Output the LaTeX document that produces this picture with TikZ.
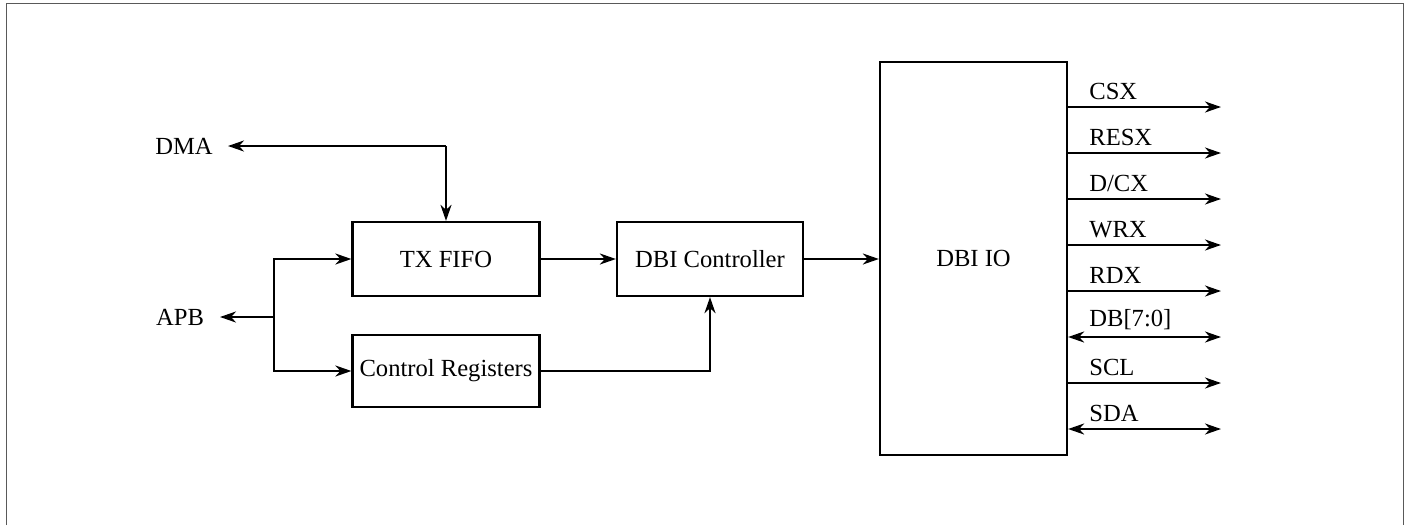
\documentclass[tikz,border=0pt]{standalone}
\usepackage{fontspec}
\setmainfont{Liberation Serif}
\usetikzlibrary{arrows.meta,positioning}

\tikzset{
  blk/.style={draw,line width=1.3pt,inner sep=0pt,font=\fontsize{14}{16}\selectfont},
  lbl/.style={inner sep=0pt,font=\fontsize{14}{16}\selectfont},
  wire/.style={line width=1.3pt},
  tip/.tip={Stealth[length=0.32cm,width=0.22cm,inset=0.1cm]}
}

\begin{document}
\begin{tikzpicture}[x=0.02cm,y=-0.02cm]
\useasboundingbox (0,0) rectangle (1411,525);
% frame
\draw[gray!70!black,line width=0.7pt] (6.5,525) -- (6.5,3.5) -- (1403.5,3.5) -- (1403.5,525);

% blocks
\node[blk,minimum width=3.74cm,minimum height=1.48cm] (fifo) at (446,259) {TX FIFO};
\node[blk,minimum width=3.74cm,minimum height=1.44cm] (regs) at (446,371) {Control Registers};
\node[blk,minimum width=3.72cm,minimum height=1.48cm] (ctrl) at (710,259) {DBI Controller};
\node[blk,minimum width=3.74cm,minimum height=7.86cm] (io) at (973.5,258.5) {DBI IO};

% bus side
\node[lbl] (dma) at (184,146) {DMA};
\node[lbl] (apb) at (180,317) {APB};
\coordinate (split) at (274,317);
\coordinate (dma-end) at (228,146);
\coordinate (apb-end) at (220,317);

\draw[wire,-tip] (fifo.north |- dma) -- (dma-end);
\draw[wire,-tip] (fifo.north |- dma) -- (fifo.north);
\draw[wire,-tip] (split) -- (apb-end);
\draw[wire,-tip] (split) |- (fifo.west);
\draw[wire,-tip] (split) |- (regs.west);

\draw[wire,-tip] (fifo) -- (ctrl);
\draw[wire,-tip] (regs.east) -| (ctrl.south);
\draw[wire,-tip] (ctrl.east) -- (ctrl.east -| io.west);

% io pins
\foreach \y/\name/\txt/\tips in {107/csx/CSX/-tip, 153/resx/RESX/-tip, 199/dcx/D\slash CX/-tip,
  245/wrx/WRX/-tip, 291/rdx/RDX/-tip, 337/db/{DB[7:0]}/tip-tip, 383/scl/SCL/-tip, 429/sda/SDA/tip-tip}{
  \coordinate (\name) at (1221,\y);
  \draw[wire,\tips] (io.east |- \name) -- (\name);
  \node[lbl,anchor=south west] (\name-lbl) at (1089,\y-7) {\txt};
}
\end{tikzpicture}
\end{document}
